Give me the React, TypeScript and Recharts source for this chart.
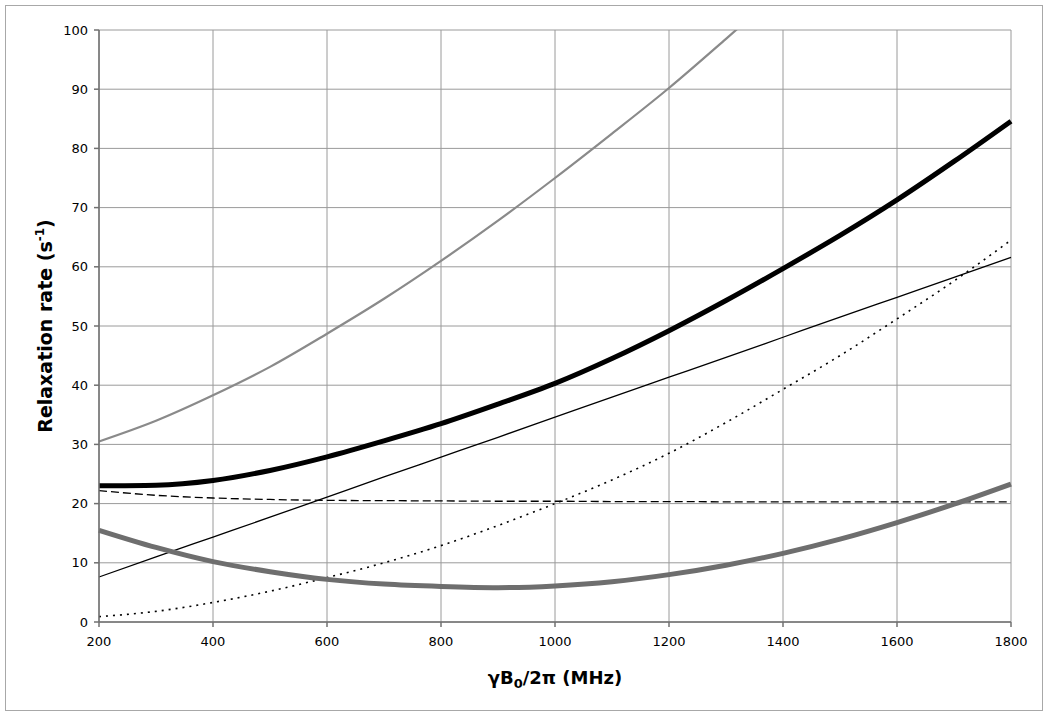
import React from "react";
import { LineChart, Line, XAxis, YAxis, CartesianGrid } from "recharts";

const freq = [200, 300, 400, 500, 600, 700, 800, 900, 1000, 1100, 1200, 1300, 1400, 1500, 1600, 1700, 1800];
const grayThin = [30.5, 34.0, 38.3, 43.1, 48.7, 54.6, 61.0, 67.8, 75.0, 82.5, 90.2, 98.5, 107.0, null, null, null, null];
const blackThick = [23.0, 23.1, 23.9, 25.6, 27.9, 30.6, 33.5, 36.8, 40.3, 44.5, 49.2, 54.3, 59.7, 65.3, 71.3, 77.8, 84.6];
const blackThin = [7.6, 11.0, 14.35, 17.7, 21.1, 24.5, 27.85, 31.2, 34.6, 38.0, 41.35, 44.7, 48.1, 51.5, 54.85, 58.2, 61.6];
const dashed = [22.2, 21.4, 20.95, 20.7, 20.55, 20.5, 20.45, 20.4, 20.4, 20.35, 20.35, 20.3, 20.3, 20.3, 20.3, 20.3, 20.3];
const dotted = [0.9, 1.8, 3.3, 5.2, 7.5, 10.0, 12.9, 16.3, 20.0, 24.0, 28.5, 33.7, 39.3, 45.0, 51.2, 57.6, 64.5];
const grayThick = [15.5, 12.6, 10.2, 8.5, 7.2, 6.4, 6.0, 5.8, 6.1, 6.8, 8.0, 9.6, 11.6, 14.0, 16.8, 19.9, 23.3];

const xTicks = [200, 400, 600, 800, 1000, 1200, 1400, 1600, 1800];
const yTicks = [0, 10, 20, 30, 40, 50, 60, 70, 80, 90, 100];

const data = freq.map((f, i) => ({
  f,
  grayThin: grayThin[i],
  blackThick: blackThick[i],
  blackThin: blackThin[i],
  dashed: dashed[i],
  dotted: dotted[i],
  grayThick: grayThick[i],
}));

const FONT = "'DejaVu Sans', Verdana, sans-serif";

const XLabel = (props: any) => {
  const vb = props.viewBox || {};
  const cx = vb.x + vb.width / 2;
  return (
    <text x={cx} y={684} textAnchor="middle" fontFamily={FONT} fontWeight="bold" fontSize={18} fill="#000">
      <tspan>γB</tspan>
      <tspan fontSize={13} dy={4}>0</tspan>
      <tspan dy={-4}>/2π (MHz)</tspan>
    </text>
  );
};

const YLabel = (props: any) => {
  const vb = props.viewBox || {};
  const cy = vb.y + vb.height / 2;
  const cx = 52;
  return (
    <text x={cx} y={cy} textAnchor="middle" fontFamily={FONT} fontWeight="bold" fontSize={19} fill="#000" transform={`rotate(-90, ${cx}, ${cy})`}>
      <tspan>Relaxation rate (s</tspan>
      <tspan fontSize={12} dy={-8}>-1</tspan>
      <tspan dy={8}>)</tspan>
    </text>
  );
};

export default function App() {
  return (
    <div style={{ position: "relative", width: 1050, height: 719, background: "#fff" }}>
      <style>{`body{margin:0;background:#fff}`}</style>
      <div
        style={{
          position: "absolute",
          left: 5,
          top: 5,
          width: 1036,
          height: 704,
          border: "1.5px solid #a8a8a8",
        }}
      />
      <div style={{ position: "absolute", left: 0, top: 0 }}>
        <LineChart width={1050} height={719} data={data} margin={{ top: 30, right: 39, bottom: 0, left: 0 }}>
          <CartesianGrid stroke="#9a9a9a" strokeWidth={1} />
          <XAxis
            dataKey="f"
            type="number"
            domain={[200, 1800]}
            ticks={xTicks}
            height={97}
            stroke="#707070"
            strokeWidth={1.5}
            tickSize={5}
            tickMargin={10}
            tick={{ fill: "#000", fontSize: 13, fontFamily: FONT }}
            label={XLabel}
          />
          <YAxis
            type="number"
            domain={[0, 100]}
            ticks={yTicks}
            allowDataOverflow
            width={99}
            stroke="#707070"
            strokeWidth={1.5}
            tickSize={5}
            tickMargin={6}
            tick={{ fill: "#000", fontSize: 13, fontFamily: FONT }}
            label={YLabel}
          />
          <Line type="monotone" dataKey="grayThin" stroke="#8a8a8a" strokeWidth={2.2} dot={false} isAnimationActive={false} connectNulls={false} />
          <Line type="monotone" dataKey="blackThick" stroke="#000" strokeWidth={5} dot={false} isAnimationActive={false} />
          <Line type="monotone" dataKey="blackThin" stroke="#000" strokeWidth={1.3} dot={false} isAnimationActive={false} />
          <Line type="monotone" dataKey="dashed" stroke="#000" strokeWidth={1.3} strokeDasharray="8 4" dot={false} isAnimationActive={false} />
          <Line type="monotone" dataKey="dotted" stroke="#000" strokeWidth={1.6} strokeDasharray="2 5" dot={false} isAnimationActive={false} />
          <Line type="monotone" dataKey="grayThick" stroke="#6e6e6e" strokeWidth={5} dot={false} isAnimationActive={false} />
        </LineChart>
      </div>
    </div>
  );
}
